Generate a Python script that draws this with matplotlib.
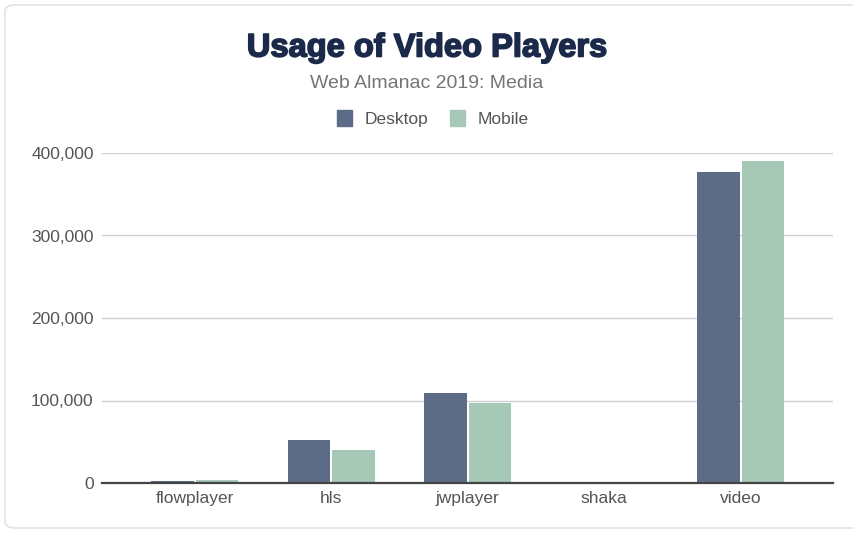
import matplotlib
matplotlib.use("Agg")
import matplotlib.pyplot as plt
from matplotlib.patches import FancyBboxPatch, Rectangle
from matplotlib.ticker import FuncFormatter
import matplotlib.patheffects as pe
import numpy as np

plt.rcParams["font.family"] = ["Liberation Sans", "DejaVu Sans"]

categories = ["flowplayer", "hls", "jwplayer", "shaka", "video"]
desktop = [2400, 52000, 109000, 300, 377000]
mobile = [4200, 40000, 97000, 300, 390000]
yticks = [0, 100000, 200000, 300000, 400000]

c_desk = "#5d6c86"
c_mob = "#a6c8b7"

W, H = 854, 533
fig = plt.figure(figsize=(W / 100, H / 100), dpi=100)

# card border
border = FancyBboxPatch((5 / W, 5 / H), 900 / W, 523 / H,
                        boxstyle="round,pad=0,rounding_size=0.012",
                        transform=fig.transFigure, fill=False,
                        edgecolor="#e3e3e3", linewidth=1.2)
fig.patches.append(border)

ax = fig.add_axes([102 / W, 1 - 483 / H, (833 - 102) / W, (483 - 153) / H])
x = np.arange(len(categories))
bw = 0.31
gap = 0.008
ax.bar(x - bw / 2 - gap, desktop, bw, color=c_desk, zorder=3)
ax.bar(x + bw / 2 + gap, mobile, bw, color=c_mob, zorder=3)

ax.set_xlim(-0.68, 4.675)
ax.set_ylim(0, 400000)
ax.set_yticks(yticks)
ax.yaxis.set_major_formatter(FuncFormatter(lambda v, p: f"{int(v):,}"))
ax.set_xticks(x)
ax.set_xticklabels(categories)
ax.grid(axis="y", color="#d0d0d0", linewidth=1, zorder=0)
for s in ["top", "right", "left"]:
    ax.spines[s].set_visible(False)
ax.spines["bottom"].set_color("#444444")
ax.spines["bottom"].set_linewidth(1.6)
ax.spines["bottom"].set_zorder(4)
ax.tick_params(axis="both", length=0, labelsize=12.5, labelcolor="#555555")
ax.tick_params(axis="y", pad=6)
ax.tick_params(axis="x", pad=6)

fig.text(0.5, 1 - 48 / H, "Usage of Video Players", ha="center", va="center",
         fontsize=23.5, fontweight="bold", color="#1b2a4a",
         path_effects=[pe.withStroke(linewidth=1.2, foreground="#1b2a4a")])
fig.text(0.5, 1 - 84 / H, "Web Almanac 2019: Media", ha="center", va="center",
         fontsize=14, color="#757575")

# legend
ly = 1 - 118 / H
sq = 15
fig.patches.append(Rectangle((337 / W, ly - sq / 2 / H), sq / W, sq / H,
                             transform=fig.transFigure, color=c_desk))
fig.text(365 / W, ly - 1 / H, "Desktop", ha="left", va="center", fontsize=12.5, color="#555555")
fig.patches.append(Rectangle((450 / W, ly - sq / 2 / H), sq / W, sq / H,
                             transform=fig.transFigure, color=c_mob))
fig.text(478 / W, ly - 1 / H, "Mobile", ha="left", va="center", fontsize=12.5, color="#555555")

fig.savefig("out.png", dpi=100)
